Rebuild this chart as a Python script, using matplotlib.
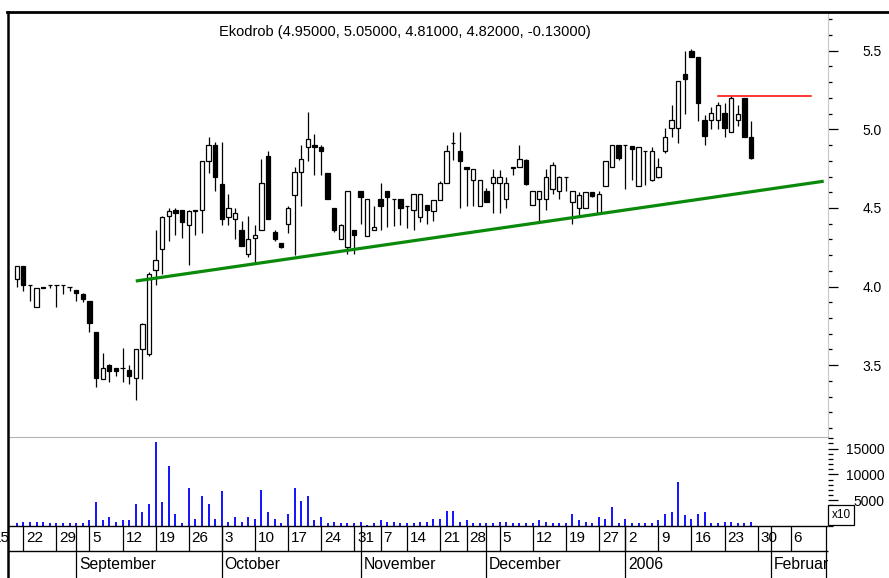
import numpy as np
import matplotlib
matplotlib.use("Agg")
import matplotlib.pyplot as plt
from matplotlib.lines import Line2D
from matplotlib.ticker import MultipleLocator

plt.rcParams['font.family'] = ['Liberation Sans', 'DejaVu Sans']

# daily candles, Ekodrob, 19 Aug 2005 - 27 Jan 2006 (one entry per trading day)
opens = [4.05, 4.13, 4.01, 3.87, 4.00, 4.01, 4.01, 4.01, 4.00, 3.98,
         3.955, 3.91, 3.71, 3.41, 3.50, 3.485, 3.485, 3.47, 3.42, 3.60,
         3.57, 4.105, 4.24, 4.45, 4.49, 4.49, 4.39, 4.49, 4.49, 4.80,
         4.90, 4.65, 4.44, 4.43, 4.36, 4.21, 4.31, 4.36, 4.83, 4.35,
         4.28, 4.40, 4.58, 4.73, 4.89, 4.90, 4.89, 4.72, 4.50, 4.30,
         4.25, 4.36, 4.61, 4.32, 4.36, 4.555, 4.61, 4.56, 4.56, 4.51,
         4.49, 4.44, 4.52, 4.48, 4.55, 4.66, 4.915, 4.86, 4.76, 4.68,
         4.51, 4.61, 4.66, 4.66, 4.555, 4.76, 4.76, 4.805, 4.52, 4.56,
         4.555, 4.62, 4.61, 4.70, 4.54, 4.50, 4.50, 4.60, 4.47, 4.64,
         4.76, 4.90, 4.90, 4.895, 4.64, 4.86, 4.675, 4.70, 4.865, 5.01,
         5.01, 5.355, 5.50, 5.46, 5.06, 5.06, 5.06, 5.105, 4.985, 5.06,
         5.20, 4.95]
highs = [4.13, 4.13, 4.01, 3.99, 4.00, 4.01, 4.01, 4.01, 4.00, 3.98,
         3.96, 3.91, 3.71, 3.575, 3.51, 3.485, 3.61, 3.50, 3.60, 3.77,
         4.09, 4.36, 4.45, 4.50, 4.50, 4.49, 4.49, 4.49, 4.80, 4.95,
         4.92, 4.92, 4.59, 4.50, 4.42, 4.45, 4.39, 4.81, 4.86, 4.36,
         4.28, 4.51, 4.76, 4.90, 5.11, 4.97, 4.90, 4.72, 4.50, 4.40,
         4.61, 4.36, 4.61, 4.56, 4.51, 4.66, 4.61, 4.56, 4.56, 4.51,
         4.59, 4.59, 4.52, 4.55, 4.67, 4.90, 4.985, 4.985, 4.76, 4.75,
         4.68, 4.63, 4.75, 4.74, 4.70, 4.76, 4.90, 4.81, 4.61, 4.61,
         4.745, 4.795, 4.705, 4.70, 4.61, 4.60, 4.60, 4.60, 4.61, 4.80,
         4.90, 4.90, 4.90, 4.895, 4.89, 4.86, 4.885, 4.815, 5.01, 5.155,
         5.31, 5.50, 5.51, 5.46, 5.09, 5.145, 5.175, 5.165, 5.21, 5.155,
         5.20, 5.05]
lows = [4.00, 3.97, 3.91, 3.87, 3.99, 3.99, 3.87, 3.95, 3.97, 3.91,
        3.90, 3.71, 3.36, 3.41, 3.39, 3.43, 3.39, 3.38, 3.28, 3.41,
        3.56, 4.01, 4.08, 4.29, 4.33, 4.31, 4.14, 4.33, 4.34, 4.72,
        4.61, 4.39, 4.39, 4.30, 4.26, 4.19, 4.15, 4.36, 4.43, 4.29,
        4.245, 4.34, 4.20, 4.51, 4.80, 4.71, 4.71, 4.555, 4.35, 4.30,
        4.21, 4.21, 4.40, 4.32, 4.36, 4.36, 4.38, 4.385, 4.39, 4.37,
        4.36, 4.41, 4.40, 4.42, 4.55, 4.66, 4.805, 4.50, 4.51, 4.51,
        4.51, 4.54, 4.47, 4.47, 4.50, 4.71, 4.76, 4.645, 4.52, 4.42,
        4.49, 4.59, 4.56, 4.61, 4.40, 4.44, 4.50, 4.57, 4.47, 4.64,
        4.76, 4.805, 4.62, 4.68, 4.64, 4.645, 4.67, 4.69, 4.85, 4.95,
        4.91, 5.10, 5.46, 5.05, 4.90, 5.00, 5.00, 4.95, 4.98, 5.02,
        4.95, 4.81]
closes = [4.13, 4.01, 4.01, 3.99, 3.99, 4.01, 4.01, 4.01, 4.00, 3.96,
          3.92, 3.77, 3.42, 3.48, 3.46, 3.46, 3.485, 3.43, 3.60, 3.76,
          4.08, 4.17, 4.44, 4.48, 4.47, 4.41, 4.48, 4.48, 4.80, 4.90,
          4.70, 4.43, 4.50, 4.47, 4.26, 4.30, 4.33, 4.66, 4.43, 4.30,
          4.25, 4.50, 4.73, 4.81, 4.94, 4.89, 4.86, 4.56, 4.36, 4.39,
          4.61, 4.33, 4.57, 4.56, 4.38, 4.51, 4.57, 4.56, 4.50, 4.51,
          4.59, 4.59, 4.49, 4.55, 4.66, 4.86, 4.915, 4.80, 4.745, 4.75,
          4.68, 4.54, 4.70, 4.70, 4.66, 4.755, 4.81, 4.65, 4.61, 4.61,
          4.70, 4.77, 4.70, 4.70, 4.61, 4.58, 4.60, 4.575, 4.59, 4.80,
          4.90, 4.815, 4.90, 4.875, 4.89, 4.86, 4.865, 4.76, 4.95, 5.06,
          5.31, 5.32, 5.46, 5.165, 4.96, 5.105, 5.155, 5.01, 5.20, 5.10,
          4.95, 4.82]
volumes = [520, 780, 780, 780, 780, 520, 520, 520, 520, 520,
           520, 1160, 4590, 1160, 1680, 780, 1160, 1160, 4260, 2710,
           4260, 16340, 4590, 11690, 2330, 520, 7300, 1420, 5810, 4260,
           1420, 6780, 780, 1680, 780, 1680, 1420, 7040, 2710, 1420,
           520, 2330, 7300, 4850, 5810, 1160, 1680, 520, 780, 520,
           520, 520, 780, 190, 520, 1160, 780, 780, 520, 520,
           520, 780, 780, 1420, 1420, 2970, 2970, 780, 1160, 520,
           520, 520, 520, 780, 780, 520, 520, 520, 520, 1160,
           780, 520, 520, 520, 2330, 1160, 780, 520, 1680, 1420,
           3620, 520, 1420, 520, 520, 520, 520, 1160, 2330, 2710,
           8590, 2070, 1420, 2330, 2710, 520, 520, 780, 780, 520,
           520, 780]

# axis calendar (positions in trading-day index)
day_ticks = [-4, 1, 6, 11, 16, 21, 26, 31, 36, 41, 46, 51, 55, 59, 64,
             68, 73, 78, 83, 88, 92, 97, 102, 107, 112, 117]
day_labels = ['15', '22', '29', '5', '12', '19', '26', '3', '10', '17', '24',
              '31', '7', '14', '21', '28', '5', '12', '19', '27', '2', '9',
              '16', '23', '30', '6']
month_starts = [9, 31, 52, 71, 92, 114]
month_labels = ['September', 'October', 'November', 'December', '2006', 'February']

# drawn lines
trend_x = [18, 122]
trend_y = [4.035, 4.67]
resist_x = [106, 120]
resist_y = [5.21, 5.21]

W, H = 889, 578
fig = plt.figure(figsize=(W / 100, H / 100), dpi=100)


def box(l, t, r, b):
    return [l / W, 1 - b / H, (r - l) / W, (b - t) / H]


x0, dx = 16.7, 6.615
xlim = ((8 - x0) / dx, (828 - x0) / dx)

# price panel
ax = fig.add_axes(box(8, 13, 828, 437))
idx = np.arange(len(opens))
o = np.array(opens)
c = np.array(closes)
up = c >= o
ax.vlines(idx, lows, highs, color='black', lw=0.9, zorder=2)
ax.bar(idx, np.abs(c - o), bottom=np.minimum(o, c), width=0.66,
       color=np.where(up, 'white', 'black'), edgecolor='black', lw=0.9, zorder=3)
ax.plot(trend_x, trend_y, color='#0a8a0a', lw=2.3, zorder=4, solid_capstyle='butt')
ax.plot(resist_x, resist_y, color='#ff0000', lw=1.1, zorder=4)
ax.set_xlim(*xlim)
ax.set_ylim(3.043, 5.74)
ax.set_xticks([])
ax.yaxis.tick_right()
ax.yaxis.set_major_locator(MultipleLocator(0.5))
ax.yaxis.set_minor_locator(MultipleLocator(0.1))
ax.yaxis.set_major_formatter(plt.FuncFormatter(lambda v, p: f'{v:.1f}'))
ax.tick_params(axis='y', which='major', length=7.2, width=0.9, pad=31.5, labelsize=10)
ax.tick_params(axis='y', which='minor', length=3.0, width=0.9)
plt.setp(ax.get_yticklabels(), ha='right')
for s in ['top', 'left']:
    ax.spines[s].set_visible(False)
ax.spines['bottom'].set_color('#b4b4b4')
ax.spines['right'].set_color('#c8c8c8')
ax.patch.set_alpha(0)

last = len(opens) - 1
title = (f'Ekodrob ({opens[last]:.5f}, {highs[last]:.5f}, {lows[last]:.5f}, '
         f'{closes[last]:.5f}, {closes[last] - closes[last - 1]:.5f})')
fig.text(405 / W, 1 - 32 / H, title, ha='center', va='center', fontsize=10.5)

# volume panel
av = fig.add_axes(box(8, 437, 828, 526))
av.vlines(idx, 0, volumes, color='#0000ff', lw=1.3)
av.set_xlim(*xlim)
av.set_ylim(0, 17250)
av.set_xticks([])
av.yaxis.tick_right()
av.set_yticks([5000, 10000, 15000])
av.yaxis.set_minor_locator(MultipleLocator(1000))
av.tick_params(axis='y', which='major', length=7.2, width=0.9, pad=33.5, labelsize=10)
av.tick_params(axis='y', which='minor', length=3.5, width=0.9)
plt.setp(av.get_yticklabels(), ha='right')
for s in av.spines.values():
    s.set_visible(False)
av.patch.set_alpha(0)
fig.text(841 / W, 1 - 515 / H, 'x10', fontsize=8.5, ha='center', va='center',
         bbox=dict(boxstyle='square,pad=0.3', fc='white', ec='black', lw=0.9))

# date axis
ad = fig.add_axes(box(0, 526, 828, 578))
ad.set_xlim((0 - x0) / dx, (828 - x0) / dx)
ad.set_ylim(0, 1)
ad.axis('off')
split = (578 - 551) / 52
ad.hlines([1.0, split], xlim[0], xlim[1], color='black', lw=1.0, clip_on=False)
ad.vlines(day_ticks, split, 1, color='black', lw=0.9)
ad.vlines(month_starts, 0, 1, color='black', lw=0.9)
ad.vlines([xlim[1] - 0.25], 0, 1, color='black', lw=0.9)
for t, lab in zip(day_ticks, day_labels):
    ad.text(t + 0.45, (1 + split) / 2, lab, ha='left', va='center',
            fontsize=11, clip_on=True)
for m, lab in zip(month_starts, month_labels):
    ad.text(m + 0.4, split / 2, lab, ha='left', va='center',
            fontsize=11.3, clip_on=True)

# frame
fig.add_artist(Line2D([7.5 / W, 7.5 / W], [0, 1 - 12 / H], color='black', lw=1.8))
fig.add_artist(Line2D([7 / W, 1], [1 - 12 / H, 1 - 12 / H], color='black', lw=2.0))

fig.savefig('out.png', dpi=100)
